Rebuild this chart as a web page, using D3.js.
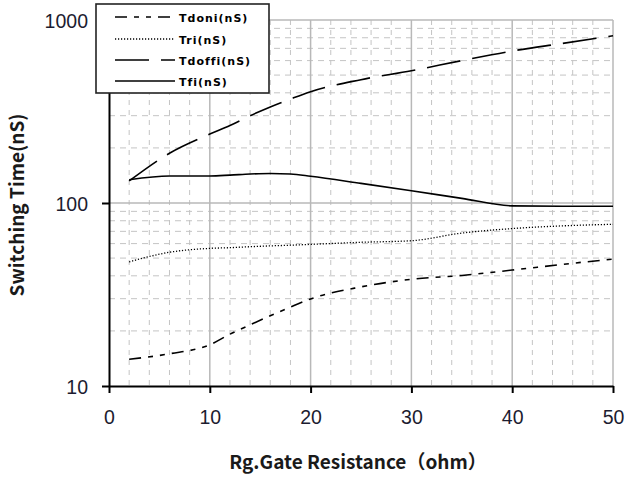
<!DOCTYPE html>
<html>
<head>
<meta charset="utf-8">
<script src="https://cdn.jsdelivr.net/npm/d3@7"></script>
<style>
body { margin: 0; background: #fff; }
svg { display: block; }
</style>
</head>
<body>
<svg id="chart" width="627" height="479"></svg>
<script>
// gate resistance (ohm)
var rg = [2, 6, 10, 12, 14, 16, 18, 20, 25, 30, 35, 40, 45, 50];

// switching times (nS)
var tdoni  = [14.0, 15.0, 16.8, 19.2, 21.6, 24.2, 27.0, 29.9, 34.8, 38.3, 40.2, 43.0, 46.2, 49.4];
var tri    = [47.7, 53.8, 56.5, 57.0, 57.7, 58.3, 58.8, 59.4, 61.0, 62.2, 68.5, 72.5, 75.0, 76.5];
var tdoffi = [132, 187, 238, 265, 300, 335, 370, 406, 472, 528, 600, 677, 745, 820];
var tfi    = [134, 140.5, 140.5, 142, 144, 145, 144, 140, 128, 116.7, 106, 96.5, 96, 96];

var xTicks = [0, 10, 20, 30, 40, 50];
var yTicks = [10, 100, 1000];
var xMinor = [2, 4, 6, 8, 12, 14, 16, 18, 22, 24, 26, 28, 32, 34, 36, 38, 42, 44, 46, 48];
var yMinor = [20, 30, 40, 50, 60, 70, 80, 90, 200, 300, 400, 500, 600, 700, 800, 900];

var seriesNames = ["Tdoni(nS)", "Tri(nS)", "Tdoffi(nS)", "Tfi(nS)"];
var seriesData = [tdoni, tri, tdoffi, tfi];
var seriesDash = ["12,7,5,7,5,7", "1.2,1.8", "34,12", null];

var svg = d3.select("#chart");

var x = d3.scaleLinear().domain([0, 50]).range([109, 613]);
var y = d3.scaleLog().domain([10, 1000]).range([386, 20]);

// grid
var grid = svg.append("g").attr("class", "grid");

grid.selectAll(".vminor").data(xMinor).enter().append("line")
    .attr("x1", function(d) { return x(d); })
    .attr("x2", function(d) { return x(d); })
    .attr("y1", y(1000))
    .attr("y2", y(10))
    .style("stroke", "#c4c4c4")
    .style("stroke-dasharray", "5,5");

grid.selectAll(".hminor").data(yMinor).enter().append("line")
    .attr("x1", x(0))
    .attr("x2", x(50))
    .attr("y1", function(d) { return y(d); })
    .attr("y2", function(d) { return y(d); })
    .style("stroke", "#c4c4c4")
    .style("stroke-dasharray", "6,5");

grid.selectAll(".vmajor").data([10, 20, 30, 40, 50]).enter().append("line")
    .attr("x1", function(d) { return x(d); })
    .attr("x2", function(d) { return x(d); })
    .attr("y1", y(1000))
    .attr("y2", y(10))
    .style("stroke", "#b8b8b8")
    .style("stroke-width", 1.5);

grid.selectAll(".hmajor").data([100, 1000]).enter().append("line")
    .attr("x1", x(0))
    .attr("x2", x(50))
    .attr("y1", function(d) { return y(d); })
    .attr("y2", function(d) { return y(d); })
    .style("stroke", "#b8b8b8")
    .style("stroke-width", 1.5);

// curves
var line = d3.line()
    .x(function(d) { return x(d[0]); })
    .y(function(d) { return y(d[1]); })
    .curve(d3.curveMonotoneX);

seriesData.forEach(function(vals, i) {
    svg.append("path")
        .datum(rg.map(function(r, j) { return [r, vals[j]]; }))
        .attr("d", line)
        .style("fill", "none")
        .style("stroke", "#000")
        .style("stroke-width", i == 1 ? 1.3 : 1.6)
        .style("stroke-dasharray", seriesDash[i]);
});

// axes
var font = "'Liberation Sans', Arial, sans-serif";

var gx = svg.append("g")
    .attr("transform", "translate(0," + y(10) + ")")
    .call(d3.axisBottom(x).tickValues(xTicks).tickSize(7).tickSizeOuter(0));
gx.select(".domain").style("stroke", "#000").style("stroke-width", 2);
gx.selectAll(".tick line").style("stroke", "#000").style("stroke-width", 2);
gx.selectAll(".tick text")
    .attr("y", 38).attr("dy", null)
    .style("font-family", font).style("font-size", "19.5px").style("fill", "#1c1c30");

var gy = svg.append("g")
    .attr("transform", "translate(" + x(0) + ",0)")
    .call(d3.axisLeft(y).tickValues(yTicks).tickFormat(d3.format("d")).tickSize(7).tickSizeOuter(0));
gy.select(".domain").style("stroke", "#000").style("stroke-width", 2);
gy.selectAll(".tick line").style("stroke", "#000").style("stroke-width", 2);
gy.selectAll(".tick text")
    .attr("x", -21).attr("y", 7).attr("dy", null)
    .style("font-family", font).style("font-size", "19.5px").style("fill", "#1c1c30");

// axis titles
var titleFont = "'Noto Sans CJK SC', 'Open Sans', sans-serif";

svg.append("text")
    .attr("x", 358)
    .attr("y", 469)
    .attr("text-anchor", "middle")
    .style("font-family", titleFont)
    .style("font-weight", "bold")
    .style("font-size", "19px")
    .style("fill", "#1a1a1a")
    .text("Rg.Gate Resistance（ohm）");

svg.append("text")
    .attr("transform", "translate(24,205) rotate(-90)")
    .attr("text-anchor", "middle")
    .style("font-family", titleFont)
    .style("font-weight", "bold")
    .style("font-size", "19px")
    .style("fill", "#1a1a1a")
    .text("Switching Time(nS)");

// legend
var legend = svg.append("g").attr("class", "legend");
legend.append("rect")
    .attr("x", 96).attr("y", 4)
    .attr("width", 173).attr("height", 89)
    .style("fill", "#fff")
    .style("stroke", "#222")
    .style("stroke-width", 1.6);

var rowY = [17, 39, 60, 81];
seriesNames.forEach(function(name, i) {
    legend.append("line")
        .attr("x1", 115).attr("x2", 175)
        .attr("y1", rowY[i]).attr("y2", rowY[i])
        .style("stroke", "#000")
        .style("stroke-width", i == 1 ? 1.3 : 1.6)
        .style("stroke-dasharray", seriesDash[i]);
    legend.append("text")
        .attr("x", 179)
        .attr("y", rowY[i] + 4.5)
        .style("font-family", "'DejaVu Sans', sans-serif")
        .style("font-weight", "bold")
        .style("font-size", "11px")
        .style("letter-spacing", "1px")
        .style("fill", "#000")
        .text(name);
});
</script>
</body>
</html>
